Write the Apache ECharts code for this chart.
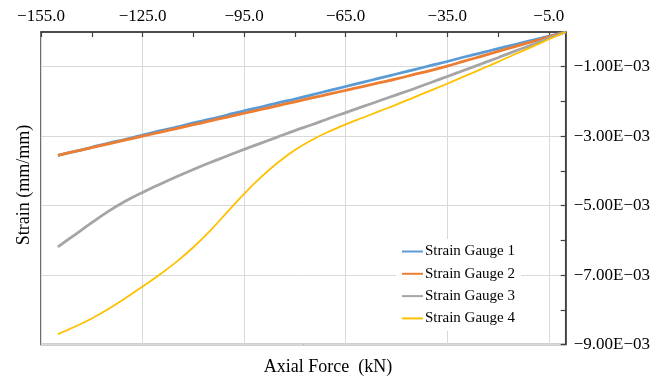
<!DOCTYPE html>
<html>
<head>
<meta charset="utf-8">
<script src="https://cdn.jsdelivr.net/npm/echarts@6/dist/echarts.min.js"></script>
<style>html,body{margin:0;padding:0;background:#fff}#c{width:653px;height:381px}</style>
</head>
<body>
<div id="c"></div>
<script>
const forceKN = [-150,-145,-140,-135,-130,-125,-120,-115,-110,-105,-100,-95,-90,-85,-80,-75,-70,-65,-60,-55,-50,-45,-40,-35,-30,-25,-20,-15,-10,-5,0];
const gauge1 = [-0.00355,-0.00344,-0.00332,-0.00320,-0.00309,-0.00297,-0.00285,-0.00274,-0.00262,-0.00251,-0.00239,-0.00227,-0.00216,-0.00204,-0.00193,-0.00181,-0.00169,-0.00157,-0.00145,-0.00133,-0.00121,-0.00109,-0.00097,-0.00085,-0.00072,-0.00060,-0.00048,-0.00036,-0.00024,-0.00012,0];
const gauge2 = [-0.00355,-0.00344,-0.00333,-0.00322,-0.00311,-0.00300,-0.00289,-0.00278,-0.00267,-0.00256,-0.00245,-0.00234,-0.00223,-0.00212,-0.00201,-0.00190,-0.00179,-0.00168,-0.00157,-0.00146,-0.00135,-0.00123,-0.00111,-0.00098,-0.00084,-0.00070,-0.00056,-0.00042,-0.00028,-0.00014,0];
const gauge3 = [-0.00619,-0.00584,-0.00549,-0.00516,-0.00487,-0.00462,-0.00439,-0.00417,-0.00396,-0.00376,-0.00357,-0.00338,-0.00320,-0.00302,-0.00284,-0.00267,-0.00249,-0.00232,-0.00215,-0.00198,-0.00181,-0.00164,-0.00146,-0.00128,-0.00110,-0.00092,-0.00074,-0.00055,-0.00037,-0.00018,0];
const gauge4 = [-0.00870,-0.00849,-0.00825,-0.00797,-0.00766,-0.00733,-0.00699,-0.00662,-0.00620,-0.00572,-0.00519,-0.00466,-0.00418,-0.00376,-0.00340,-0.00311,-0.00287,-0.00266,-0.00247,-0.00228,-0.00209,-0.00189,-0.00169,-0.00149,-0.00128,-0.00107,-0.00086,-0.00064,-0.00043,-0.00021,0];
const seriesNames = ['Strain Gauge 1','Strain Gauge 2','Strain Gauge 3','Strain Gauge 4'];
const xTickValues = [-155,-140,-125,-110,-95,-80,-65,-50,-35,-20,-5];
const xLabelValues = [-155,-125,-95,-65,-35,-5];
const yTickValues = [-0.009,-0.008,-0.007,-0.006,-0.005,-0.004,-0.003,-0.002,-0.001];
const yLabelValues = [-0.009,-0.007,-0.005,-0.003,-0.001];

const FONT = 'Liberation Serif';
const colors = ['#5B9BD5','#ED7D31','#A5A5A5','#FFC000'];
const widths = [2.8,2.8,2.8,1.8];
const gauges = [gauge1,gauge2,gauge3,gauge4];

function fmtX(v){ return (v<0?'\u2212':'') + Math.abs(v).toFixed(1); }
function fmtY(v){
  if (v === 0) return '';
  const e = Math.floor(Math.log10(Math.abs(v)) + 1e-9);
  const m = v / Math.pow(10, e);
  return (m<0?'\u2212':'') + Math.abs(m).toFixed(2) + 'E' + (e<0?'\u2212':'+') + String(Math.abs(e)).padStart(2,'0');
}

const chart = echarts.init(document.getElementById('c'), null, {renderer:'canvas'});
chart.setOption({
  animation: false,
  backgroundColor: '#fff',
  grid: {left: 41, top: 32, right: 87, bottom: 36.5, show: true, borderColor: '#404040', borderWidth: 1.5, backgroundColor: 'transparent'},
  xAxis: {
    type: 'value', position: 'top', min: -155, max: 0,
    axisLine: {show: true, lineStyle: {color: '#404040', width: 1.5}},
    axisTick: {show: true, inside: true, length: 5, customValues: xTickValues, lineStyle: {color: '#404040', width: 1.2}},
    axisLabel: {customValues: xLabelValues, formatter: fmtX, fontFamily: FONT, fontSize: 17, color: '#000', margin: 7},
    splitLine: {show: true, lineStyle: {color: ['#d9d9d9','rgba(0,0,0,0)'], width: 1}}
  },
  yAxis: {
    type: 'value', position: 'right', min: -0.009, max: 0,
    axisLine: {show: true, lineStyle: {color: '#404040', width: 1.5}},
    axisTick: {show: true, inside: true, length: 5, customValues: yTickValues, lineStyle: {color: '#404040', width: 1.2}},
    axisLabel: {customValues: yLabelValues, formatter: fmtY, fontFamily: FONT, fontSize: 17, color: '#000', margin: 8},
    splitLine: {show: true, lineStyle: {color: ['#d9d9d9','rgba(0,0,0,0)'], width: 1}}
  },
  legend: {
    orient: 'vertical', left: 396, top: 239, padding: [5,6,5,5],
    backgroundColor: '#fff', itemWidth: 21, itemHeight: 14, itemGap: 7.3,
    itemStyle: {opacity: 0},
    textStyle: {fontFamily: FONT, fontSize: 15, color: '#000', padding: [0,0,0,-3]},
    data: seriesNames
  },
  graphic: [
    {type: 'text', x: 24, y: 185, rotation: Math.PI/2, style: {text: 'Strain (mm/mm)', font: '18px "Liberation Serif"', fill: '#000', align: 'center', verticalAlign: 'middle'}},
    {type: 'text', x: 328, y: 367, style: {text: 'Axial Force  (kN)', font: '18px "Liberation Serif"', fill: '#000', align: 'center', verticalAlign: 'middle'}}
  ],
  series: seriesNames.map((n, i) => ({
    name: n, type: 'line', smooth: 0.4, symbol: 'none', showSymbol: false,
    data: forceKN.map((f, k) => [f, gauges[i][k]]),
    lineStyle: {color: colors[i], width: widths[i]},
    itemStyle: {color: colors[i]}
  }))
});
</script>
</body>
</html>
